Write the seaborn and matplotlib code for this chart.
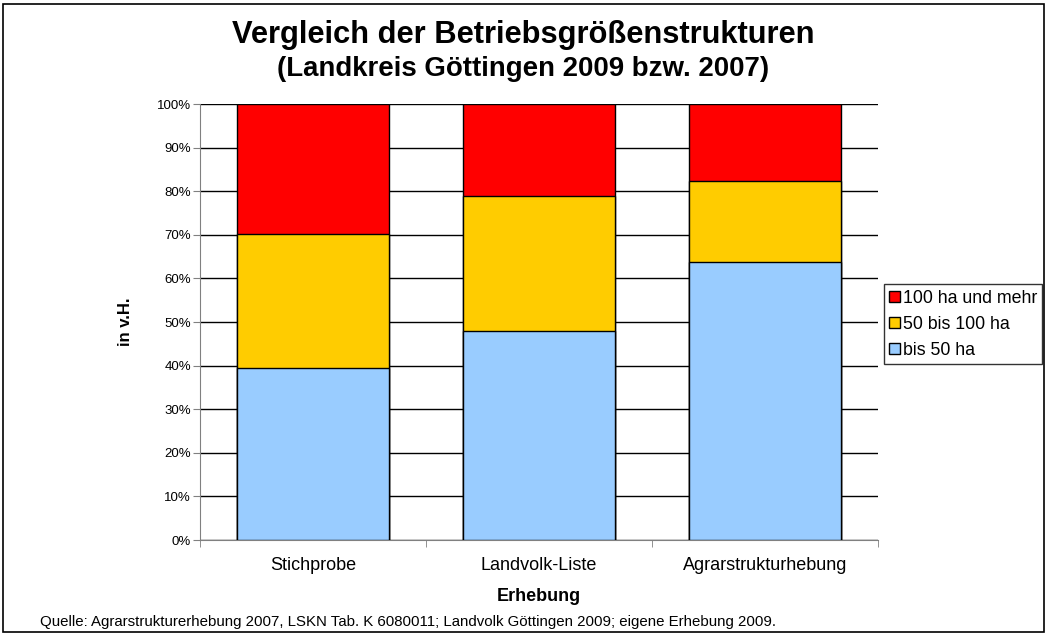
import pandas as pd
import matplotlib
matplotlib.use('Agg')
import matplotlib.pyplot as plt
import seaborn as sns
from matplotlib.patches import Patch, Rectangle
from matplotlib.ticker import PercentFormatter

# data (shares in percent)
categories = ["Stichprobe", "Landvolk-Liste", "Agrarstrukturhebung"]
bis_50 = [39.5, 48.0, 63.8]
von_50_bis_100 = [30.8, 31.0, 18.5]
ab_100 = [29.7, 21.0, 17.7]
series_names = ["100 ha und mehr", "50 bis 100 ha", "bis 50 ha"]
colors = ["#ff0000", "#ffcc00", "#99ccff"]

df = pd.DataFrame({
    "Erhebung": categories,
    "bis50": bis_50,
    "mid": von_50_bis_100,
    "top": ab_100,
})
df["cum_mid"] = df["bis50"] + df["mid"]
df["cum_top"] = df["cum_mid"] + df["top"]

sns.set_style("white")
plt.rcParams['font.family'] = ['Liberation Sans', 'DejaVu Sans']
plt.rcParams['text.color'] = 'black'
plt.rcParams['axes.labelcolor'] = 'black'
plt.rcParams['xtick.color'] = 'black'
plt.rcParams['ytick.color'] = 'black'

fig = plt.figure(figsize=(10.47, 6.35), dpi=100)
ax = fig.add_axes([0.191, 0.1496, 0.6476, 0.6866])

# stacked bars: draw cumulative heights from top segment down
for col, c in zip(["cum_top", "cum_mid", "bis50"], colors):
    sns.barplot(data=df, x="Erhebung", y=col, color=c, width=0.67,
                edgecolor="black", linewidth=1.0, saturation=1, ax=ax, zorder=3)

ax.set_ylim(0, 100)
ax.set_xlim(-0.5, 2.5)
ax.set_yticks(range(0, 101, 10))
ax.yaxis.set_major_formatter(PercentFormatter(decimals=0))
ax.grid(axis="y", color="black", linewidth=1.0, zorder=0)
ax.set_axisbelow(True)

for s in ["top", "right"]:
    ax.spines[s].set_visible(False)
ax.spines["left"].set_color("#808080")
ax.spines["bottom"].set_color("#808080")

ax.set_xticks([0, 1, 2])
ax.set_xticklabels(categories, fontsize=13)
ax.tick_params(axis="x", length=0, pad=12)
ax.set_xticks([-0.5, 0.5, 1.5, 2.5], minor=True)
ax.tick_params(axis="x", which="minor", length=5, color="#808080", direction="out", bottom=True)
ax.tick_params(axis="y", labelsize=9.5, length=5, color="#808080", direction="out", left=True, pad=1.5)

ax.set_xlabel("Erhebung", fontsize=13, fontweight="bold", labelpad=10)
ax.set_ylabel("in v.H.", fontsize=12, fontweight="bold", labelpad=17)

# legend
handles = [Patch(facecolor=c, edgecolor="black", label=n) for c, n in zip(colors, series_names)]
leg = ax.legend(handles=handles, loc="center left", bbox_to_anchor=(1.009, 0.495),
                fontsize=12.8, frameon=True, fancybox=False, edgecolor="black",
                handlelength=0.6, handleheight=0.6, handletextpad=0.15,
                borderpad=0.3, labelspacing=0.5, borderaxespad=0)
leg.get_frame().set_linewidth(1.0)

fig.text(0.5, 0.945, "Vergleich der Betriebsgrößenstrukturen", ha="center", va="center",
         fontsize=22.2, fontweight="bold")
fig.text(0.5, 0.891, "(Landkreis Göttingen 2009 bzw. 2007)", ha="center", va="center",
         fontsize=19.9, fontweight="bold")
fig.text(0.038, 0.02, "Quelle: Agrarstrukturerhebung 2007, LSKN Tab. K 6080011; Landvolk Göttingen 2009; eigene Erhebung 2009.",
         ha="left", va="center", fontsize=10.8)

# border around the whole chart
fig.patches.append(Rectangle((0.003, 0.004), 0.994, 0.99, transform=fig.transFigure,
                             fill=False, edgecolor="black", linewidth=1.2))

fig.savefig("out.png", dpi=100)
